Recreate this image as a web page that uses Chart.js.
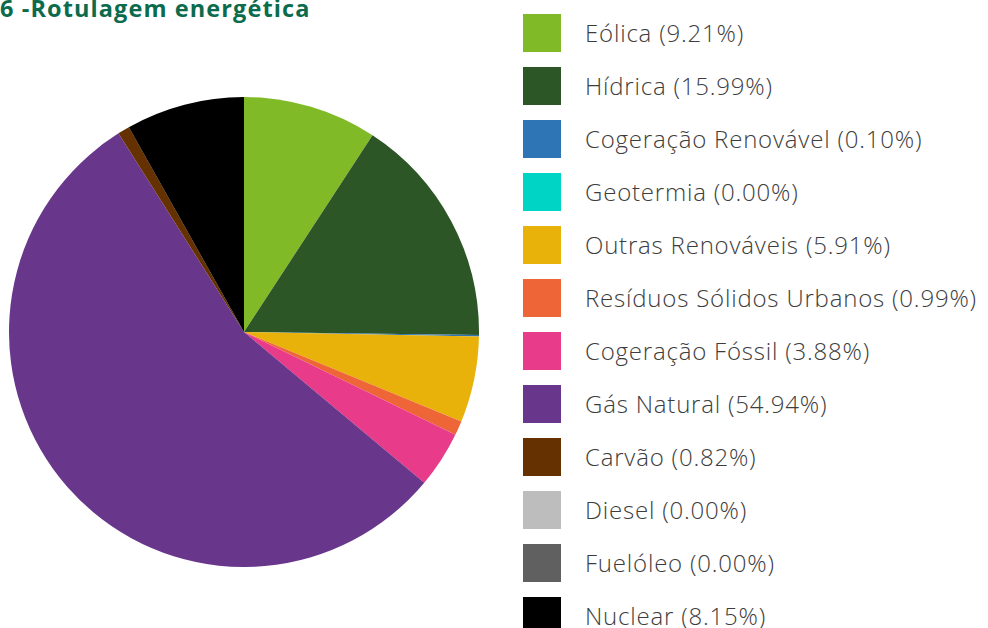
<!DOCTYPE html>
<html>
<head>
<meta charset="utf-8">
<script src="https://cdn.jsdelivr.net/npm/chart.js@4.4.1/dist/chart.umd.min.js"></script>
<style>
  html, body { margin: 0; padding: 0; background: #fff; }
  body { width: 988px; height: 628px; position: relative; overflow: hidden; font-family: "Source Sans Pro", "Open Sans", sans-serif; }
  #title { position: absolute; left: 0; top: -8px; font-size: 23.5px; font-weight: 700; color: #0b6b4c; white-space: nowrap; letter-spacing: 1.1px; }
  #pieWrap { position: absolute; left: 9px; top: 97px; width: 470px; height: 470px; }
  #legend { position: absolute; left: 523px; top: 14px; }
  .item { position: absolute; left: 0; height: 38px; white-space: nowrap; }
  .box { position: absolute; left: 0; top: 0; width: 38px; height: 38px; }
  .lbl { position: absolute; left: 62px; top: 0; line-height: 38px; font-size: 24px; font-weight: 300; color: #3d3d3d; letter-spacing: 0.8px; }
</style>
</head>
<body>
<div id="title">6 -Rotulagem energética</div>
<div id="pieWrap"><canvas id="pie"></canvas></div>
<div id="legend"></div>
<script>
// Dados do gráfico
const categorias = ['Eólica', 'Hídrica', 'Cogeração Renovável', 'Geotermia', 'Outras Renováveis',
  'Resíduos Sólidos Urbanos', 'Cogeração Fóssil', 'Gás Natural', 'Carvão', 'Diesel', 'Fuelóleo', 'Nuclear'];
const percentagens = [9.21, 15.99, 0.10, 0.00, 5.91, 0.99, 3.88, 54.94, 0.82, 0.00, 0.00, 8.15];
const cores = ['#80ba27', '#2d5627', '#2e75b6', '#00d4c4', '#e8b20a', '#ee6537',
  '#e83c8a', '#68368b', '#653100', '#bdbdbd', '#606060', '#000000'];

// Legenda
const legend = document.getElementById('legend');
categorias.forEach((nome, i) => {
    const item = document.createElement('div');
    item.className = 'item';
    item.style.top = (i * 53) + 'px';
    item.innerHTML = `
        <div class="box" style="background:${cores[i]}"></div>
        <div class="lbl">${nome} (${percentagens[i].toFixed(2)}%)</div>
    `;
    legend.appendChild(item);
});

// Gráfico circular
new Chart(document.getElementById('pie').getContext('2d'), {
    type: 'pie',
    data: {
        labels: categorias,
        datasets: [{
            data: percentagens,
            backgroundColor: cores,
            borderWidth: 0
        }]
    },
    options: {
        responsive: true,
        maintainAspectRatio: false,
        animation: false,
        layout: { padding: 0 },
        plugins: {
            legend: { display: false },
            tooltip: { enabled: false }
        }
    }
});
</script>
</body>
</html>
